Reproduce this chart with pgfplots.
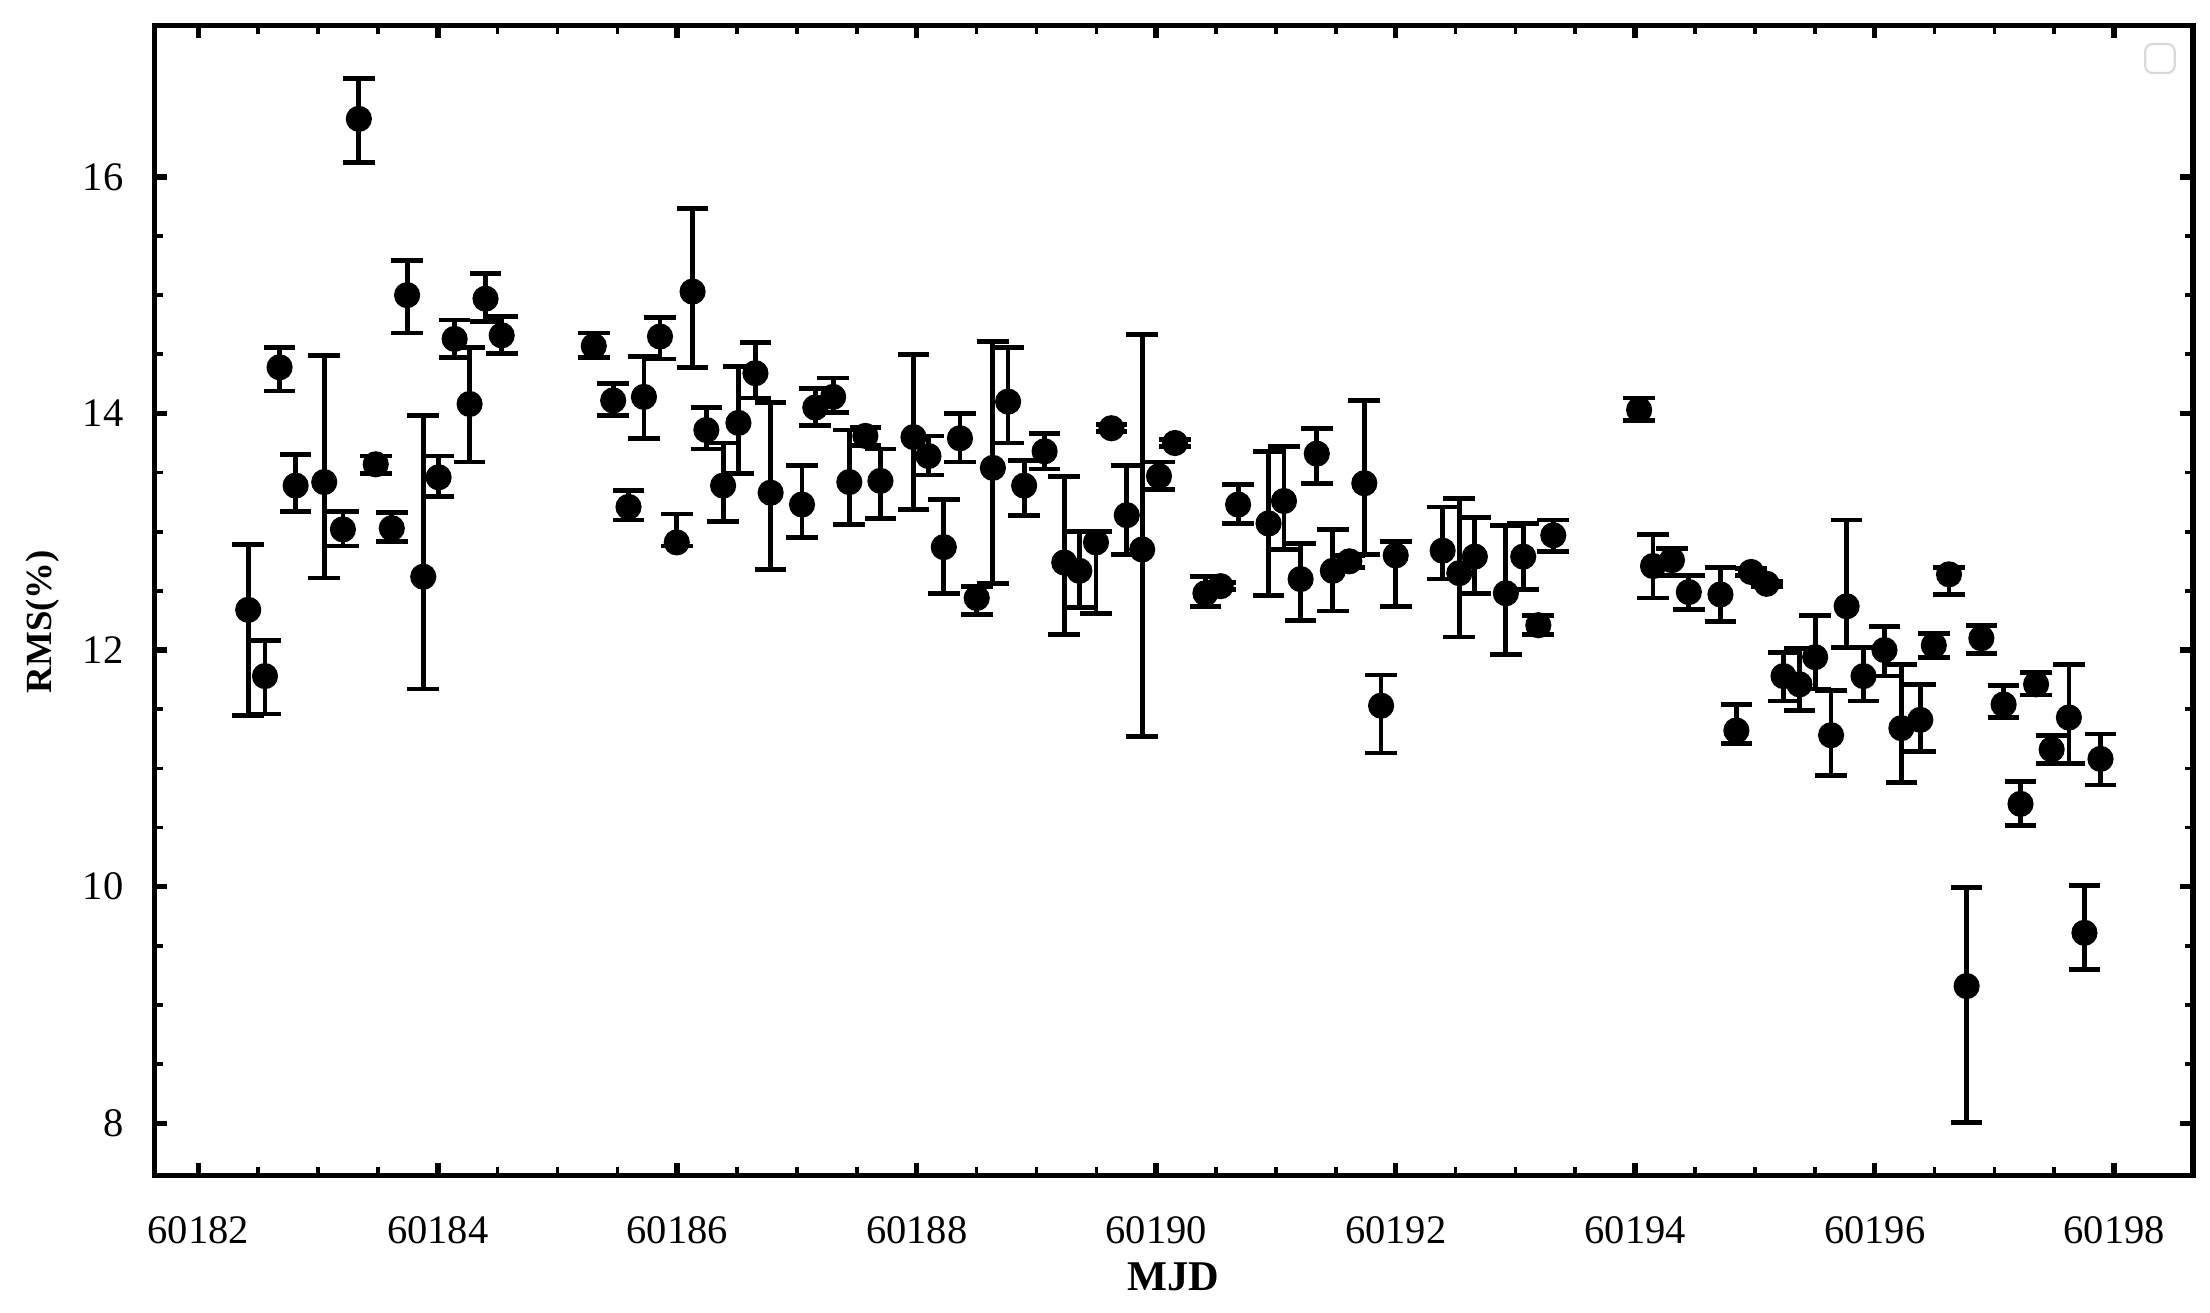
\documentclass[border=0pt]{standalone}
\usepackage{fontspec}
\setmainfont{Liberation Serif}
\usepackage{pgfplots}
\pgfplotsset{compat=1.18}
\usepackage{pgfplotstable}

% x = MJD - 60182
\pgfplotstableread{
x y ep em
0.417 12.34 0.55 0.89
0.557 11.78 0.30 0.32
0.679 14.39 0.17 0.20
0.813 13.39 0.26 0.22
1.052 13.42 1.07 0.81
1.208 13.02 0.15 0.14
1.341 16.49 0.34 0.37
1.482 13.57 0.07 0.08
1.616 13.03 0.13 0.11
1.744 15.00 0.29 0.32
1.879 12.62 1.36 0.95
2.007 13.46 0.18 0.16
2.141 14.63 0.16 0.16
2.266 14.08 0.48 0.49
2.399 14.97 0.21 0.19
2.534 14.66 0.16 0.15
3.303 14.57 0.11 0.10
3.465 14.11 0.14 0.13
3.593 13.21 0.14 0.11
3.722 14.14 0.34 0.35
3.856 14.65 0.16 0.19
3.996 12.91 0.24 0.03
4.128 15.03 0.70 0.64
4.243 13.86 0.19 0.16
4.383 13.39 0.36 0.30
4.511 13.92 0.48 0.43
4.653 14.34 0.26 0.21
4.780 13.33 0.76 0.65
5.042 13.23 0.33 0.28
5.153 14.05 0.16 0.15
5.302 14.14 0.16 0.13
5.437 13.42 0.44 0.36
5.571 13.81 0.07 0.08
5.697 13.43 0.27 0.32
5.973 13.80 0.70 0.61
6.098 13.64 0.17 0.16
6.226 12.87 0.40 0.39
6.361 13.79 0.21 0.20
6.501 12.44 0.10 0.14
6.636 13.54 1.07 0.98
6.763 14.10 0.46 0.35
6.897 13.39 0.21 0.25
7.068 13.68 0.15 0.15
7.232 12.74 0.73 0.61
7.358 12.67 0.33 0.31
7.497 12.91 0.09 0.60
7.626 13.875 0.03 0.03
7.754 13.14 0.42 0.33
7.883 12.85 1.82 1.58
8.023 13.47 0.12 0.11
8.157 13.75 0.03 0.03
8.411 12.48 0.14 0.11
8.538 12.54 0.03 0.03
8.684 13.23 0.17 0.16
8.938 13.07 0.61 0.61
9.067 13.26 0.46 0.41
9.206 12.60 0.30 0.35
9.341 13.66 0.21 0.25
9.475 12.67 0.35 0.34
9.613 12.75 0.05 0.05
9.738 13.41 0.70 0.60
9.878 11.53 0.26 0.40
10.000 12.80 0.12 0.43
10.392 12.84 0.37 0.24
10.531 12.65 0.63 0.54
10.661 12.79 0.33 0.31
10.920 12.48 0.57 0.52
11.065 12.79 0.28 0.28
11.191 12.21 0.08 0.08
11.316 12.97 0.13 0.14
12.033 14.03 0.10 0.09
12.149 12.71 0.27 0.27
12.307 12.76 0.10 0.13
12.448 12.49 0.14 0.15
12.712 12.47 0.23 0.23
12.845 11.32 0.22 0.11
12.968 12.66 0.03 0.03
13.098 12.56 0.02 0.02
13.239 11.78 0.20 0.21
13.372 11.71 0.30 0.22
13.503 11.94 0.35 0.27
13.636 11.28 0.38 0.34
13.766 12.37 0.73 0.35
13.907 11.78 0.24 0.21
14.082 12.00 0.20 0.22
14.223 11.34 0.54 0.46
14.381 11.41 0.30 0.27
14.494 12.04 0.10 0.10
14.621 12.64 0.06 0.17
14.768 9.16 0.83 1.15
14.891 12.10 0.11 0.13
15.077 11.54 0.16 0.11
15.218 10.70 0.19 0.18
15.348 11.71 0.10 0.09
15.478 11.16 0.12 0.12
15.622 11.43 0.45 0.39
15.752 9.61 0.40 0.31
15.886 11.08 0.21 0.22
}\rmsdata

\begin{document}
\begin{tikzpicture}
\begin{axis}[
  name=ax,
  scale only axis,
  width=553.5pt, height=312.2pt,
  xmin=-0.367, xmax=16.659,
  ymin=7.56, ymax=17.28,
  xtick={0,2,...,16},
  xticklabels={60182,60184,60186,60188,60190,60192,60194,60196,60198},
  minor x tick num=3,
  ytick={8,10,12,14,16},
  minor y tick num=3,
  /pgf/number format/assume math mode=true,
  tick align=inside,
  major tick length=3.45pt,
  minor tick length=2.3pt,
  major tick style={line width=1.5pt, black},
  minor tick style={line width=1.0pt, black},
  axis line style={line width=1.5pt, black},
  xticklabel style={font=\fontsize{11}{13}\selectfont, anchor=center, inner sep=0pt, yshift=-14.9pt},
  yticklabel style={font=\fontsize{11}{13}\selectfont, anchor=east, inner sep=0pt, xshift=-8.2pt},
  xlabel={MJD},
  xlabel style={at={(axis description cs:0.5,-0.0881)}, anchor=center, font=\fontsize{11.5}{13}\selectfont\bfseries},
  ylabel={RMS(\%)},
  ylabel style={at={(axis description cs:-0.0549,0.4816)}, anchor=center, font=\fontsize{10}{12}\selectfont\bfseries},
  clip=false,
]
\addplot[
  only marks,
  mark=*,
  mark size=3.35pt,
  mark options={fill=black, draw=black},
  error bars/.cd,
    y dir=both, y explicit,
    error bar style={line width=1.3pt, black},
    error mark options={rotate=90, line width=1.3pt, black, mark size=4.3pt},
] table[x=x, y=y, y error plus=ep, y error minus=em] {\rmsdata};
\draw[gray!30, line width=0.6pt, rounded corners=2pt] (rel axis cs:0.9765,0.9586) rectangle (rel axis cs:0.991,0.9838);
\end{axis}
\pgfresetboundingbox
\path[use as bounding box] ([xshift=-41.9pt,yshift=-37.1pt]ax.south west) rectangle ([xshift=4.6pt,yshift=6.9pt]ax.north east);
\end{tikzpicture}
\end{document}
